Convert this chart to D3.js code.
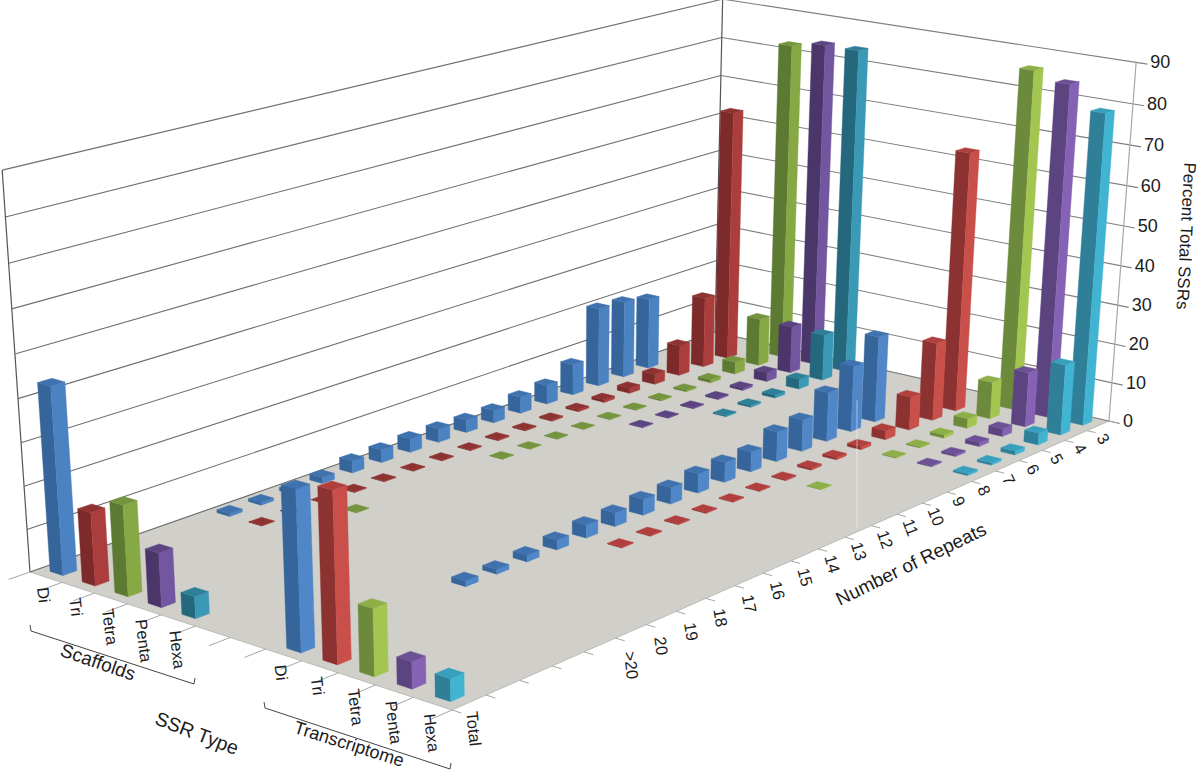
<!DOCTYPE html>
<html><head>
  <meta charset="utf-8">
  <script src="https://d3js.org/d3.v7.min.js"></script>
  <style>
    body { margin: 0; background: #fff; }
    text { font-family: 'Liberation Sans', Arial, sans-serif; fill: #1c1c1c; }
  </style>
</head>
<body>
  <script>
    //Axis categories (blanks are real empty slots on the floor)
    const ssrLabels = ["Di", "Tri", "Tetra", "Penta", "Hexa", "", "", "Di", "Tri", "Tetra", "Penta", "Hexa"]
    const repeatLabels = ["3", "4", "5", "6", "7", "8", "9", "10", "11", "12", "13", "14", "15", "16", "17", "18", "19", "20", ">20", "", "", "", "", "Total"]
    const percentTicks = [0, 10, 20, 30, 40, 50, 60, 70, 80, 90]

    //Percent of SSRs by number of repeats, same order as repeatLabels. null = no bar
    const scaffoldsDi = [null, null, null, 18.5, 20, 20.5, 8, 4.9, 4.2, 3.2, 3.2, 3.5, 3.5, 3.2, 3, 1.5, 0.8, 0.7, 0.7, null, null, null, null, 43.5]
    const scaffoldsTri = [null, 65.5, 18.5, 8, 2.7, 1.3, 0.7, 0.5, 0.4, 0.3, 0.3, 0.2, 0.2, 0.15, 0.15, 0.15, 0.1, 0.1, 0.1, null, null, null, null, 17]
    const scaffoldsTetra = [82.5, 12.5, 3.2, 0.8, 0.4, 0.3, 0.2, 0.2, 0.1, 0.1, 0.1, 0.1, null, null, null, null, 0.1, null, null, null, null, null, null, 21]
    const scaffoldsPenta = [84, 12.3, 2.4, 0.6, 0.4, 0.3, 0.2, 0.2, null, null, null, null, null, null, null, null, null, null, null, null, null, null, null, 12.5]
    const scaffoldsHexa = [84, 12, 2.6, 0.8, 0.5, 0.3, null, null, null, null, null, null, null, null, null, null, null, null, null, null, null, null, null, 5]
    const transDi = [null, null, null, 22, 16.8, 12.5, 8, 7.5, 5, 5, 4.8, 4, 3.9, 3.3, 3.2, 2.3, 1.6, 1.1, 1.3, null, null, null, null, 36]
    const transTri = [null, 66, 20, 8.5, 2.3, 0.8, 0.6, 0.5, 0.3, 0.2, 0.2, 0.2, 0.2, 0.2, 0.2, null, null, null, null, null, null, null, null, 38]
    const transTetra = [86, 9.5, 2.5, 0.8, 0.3, 0.2, null, null, 0.1, null, null, null, null, null, null, null, null, null, null, null, null, null, null, 15]
    const transPenta = [84, 14, 2, 1, 0.5, 0.3, null, null, null, null, null, null, null, null, null, null, null, null, null, null, null, null, null, 6]
    const transHexa = [78.5, 18, 3, 1, 0.6, 0.5, null, null, null, null, null, null, null, null, null, null, null, null, null, null, null, null, null, 5]

    //slot on the SSR axis, values, colors [left face, right face, top]
    const series = [
      {slot: 0, values: scaffoldsDi, colors: ["#35659a", "#4b82c2", "#3f72ae"]},
      {slot: 1, values: scaffoldsTri, colors: ["#7c2a2a", "#ab3e3c", "#8f3332"]},
      {slot: 2, values: scaffoldsTetra, colors: ["#5d7a33", "#86a845", "#74953d"]},
      {slot: 3, values: scaffoldsPenta, colors: ["#4b3669", "#7256a0", "#5c4482"]},
      {slot: 4, values: scaffoldsHexa, colors: ["#25687d", "#3a9ab5", "#2e8098"]},
      {slot: 7, values: transDi, colors: ["#35659a", "#4f87c8", "#3f72ae"]},
      {slot: 8, values: transTri, colors: ["#8c3230", "#c94f4b", "#b03f3d"]},
      {slot: 9, values: transTetra, colors: ["#6c8a3c", "#a3c650", "#8daf48"]},
      {slot: 10, values: transPenta, colors: ["#5b4480", "#8662b5", "#6d5195"]},
      {slot: 11, values: transHexa, colors: ["#2f7f99", "#41b4d2", "#38a0bd"]}
    ]

    const width = 1200
    const height = 771

    const svg = d3.select("body").append("svg")
                  .attr("width", width)
                  .attr("height", height)

    //Small gaussian solver, used to fit the camera
    function solve(A, b) {
      const n = b.length
      const m = A.map((row, i) => [...row, b[i]])
      for (let i = 0; i < n; i++) {
        let p = i
        for (let r = i + 1; r < n; r++) if (Math.abs(m[r][i]) > Math.abs(m[p][i])) p = r
        ;[m[i], m[p]] = [m[p], m[i]]
        for (let r = 0; r < n; r++) {
          if (r === i) continue
          const f = m[r][i] / m[i][i]
          for (let c = i; c < n + 1; c++) m[r][c] -= f * m[i][c]
        }
      }
      return m.map((row, i) => row[n] / row[i])
    }

    //Camera: floor corners and wall tops as seen on the page. u = along SSR axis, v = along repeats axis
    const floorPins = [
      {u: 0, v: 0, x: 715, y: 332},
      {u: 1, v: 0, x: 1109, y: 421},
      {u: 1, v: 1, x: 452, y: 710},
      {u: 0, v: 1, x: 30, y: 572}
    ]
    const topPins = [
      {u: 0, v: 1, x: 2, y: 167},
      {u: 0, v: 0, x: 722, y: 2},
      {u: 1, v: 0, x: 1137, y: 62}
    ]

    const floorA = []
    const floorB = []
    floorPins.forEach(p => {
      floorA.push([p.u, p.v, 1, 0, 0, 0, -p.x * p.u, -p.x * p.v]); floorB.push(p.x)
      floorA.push([0, 0, 0, p.u, p.v, 1, -p.y * p.u, -p.y * p.v]); floorB.push(p.y)
    })
    const h = solve(floorA, floorB)

    // vertical column from the wall tops, least squares
    const rows = []
    const rhs = []
    topPins.forEach(p => {
      const q = h[6] * p.u + h[7] * p.v + 1
      rows.push([1, 0, -p.x]); rhs.push(p.x * q - (h[0] * p.u + h[1] * p.v + h[2]))
      rows.push([0, 1, -p.y]); rhs.push(p.y * q - (h[3] * p.u + h[4] * p.v + h[5]))
    })
    const normA = d3.range(3).map(i => d3.range(3).map(j => d3.sum(rows, r => r[i] * r[j])))
    const normB = d3.range(3).map(i => d3.sum(rows, (r, k) => r[i] * rhs[k]))
    const vert = solve(normA, normB)

    function project(u, v, w) {
      const q = h[6] * u + h[7] * v + 1 + vert[2] * w
      return [(h[0] * u + h[1] * v + h[2] + vert[0] * w) / q,
              (h[3] * u + h[4] * v + h[5] + vert[1] * w) / q]
    }

    //Scales
    const ssrScale = d3.scaleBand().domain(d3.range(ssrLabels.length)).range([0, 1]).paddingInner(0.6).paddingOuter(0.3)
    const repeatScale = d3.scaleBand().domain(d3.range(repeatLabels.length)).range([0, 1]).paddingInner(0.6).paddingOuter(0.3)
    const percentScale = d3.scaleLinear().domain([0, 90]).range([0, 1])

    const line = d3.line()
    const poly = pts => pts.map(p => p.join(",")).join(" ")

    //Floor
    svg.append("polygon")
       .attr("points", poly(floorPins.map(p => project(p.u, p.v, 0))))
       .style("fill", "#d0cfca")
       .style("stroke", "#bcbbb6")

    //Gridlines on both walls
    const grid = svg.append("g").attr("class", "gridlines")
    grid.selectAll("path.left").data(percentTicks).join("path")
        .attr("class", "left")
        .attr("d", d => line([project(0, 1, percentScale(d)), project(0, 0, percentScale(d))]))
        .style("stroke", d => "#6f6f6f").style("fill", "none").style("stroke-width", 1.1)
    grid.selectAll("path.right").data(percentTicks).join("path")
        .attr("class", "right")
        .attr("d", d => line([project(0, 0, percentScale(d)), project(1.025, 0, percentScale(d))]))
        .style("stroke", "#808080").style("fill", "none").style("stroke-width", 1.1)

    //Wall edges
    const edges = [[0, 1, "#555"], [0, 0, "#555"], [1, 0, "#a8a8a8"]]
    grid.selectAll("path.edge").data(edges).join("path")
        .attr("class", "edge")
        .attr("d", d => line([project(d[0], d[1], 0), project(d[0], d[1], 1)]))
        .style("stroke", d => d[2]).style("fill", "none").style("stroke-width", 1.2)

    //Ticks along the two front floor edges
    svg.selectAll("path.ssrTick").data(d3.range(ssrLabels.length + 1)).join("path")
       .attr("class", "ssrTick")
       .attr("d", d => line([project(d / ssrLabels.length, 1, 0), project(d / ssrLabels.length, 1.025, 0)]))
       .style("stroke", "#a6a6a6").style("fill", "none")
    svg.selectAll("path.repTick").data(d3.range(repeatLabels.length + 1)).join("path")
       .attr("class", "repTick")
       .attr("d", d => line([project(1, d / repeatLabels.length, 0), project(1.02, d / repeatLabels.length, 0)]))
       .style("stroke", "#a6a6a6").style("fill", "none")

    //Bars, back to front
    const bars = []
    series.forEach(s => s.values.forEach((value, rep) => {
      if (value !== null) bars.push({slot: s.slot, rep: rep, value: value, colors: s.colors})
    }))
    bars.sort((a, b) => a.rep - b.rep || a.slot - b.slot)

    const barGroups = svg.selectAll("g.bar").data(bars).join("g").attr("class", "bar")

    function corners(d, w) {
      const u0 = ssrScale(d.slot), u1 = u0 + ssrScale.bandwidth()
      const v0 = repeatScale(d.rep), v1 = v0 + repeatScale.bandwidth()
      return {a: project(u0, v0, w), b: project(u1, v0, w), c: project(u1, v1, w), e: project(u0, v1, w)}
    }
    const face = (sel, pts, i) => sel.append("polygon")
          .attr("points", d => poly(pts(d)))
          .style("fill", d => d.colors[i])
          .style("stroke", d => d.colors[i])
          .style("stroke-width", 0.4)

    face(barGroups, d => {
      const lo = corners(d, 0), hi = corners(d, percentScale(d.value))
      return [lo.e, lo.c, hi.c, hi.e]
    }, 0)
    face(barGroups, d => {
      const lo = corners(d, 0), hi = corners(d, percentScale(d.value))
      return [lo.c, lo.b, hi.b, hi.c]
    }, 1)
    face(barGroups, d => {
      const hi = corners(d, percentScale(d.value))
      return [hi.a, hi.b, hi.c, hi.e]
    }, 2)

    //Faint seam that runs down the floor in the original
    svg.append("line")
       .attr("x1", 857).attr("y1", 400).attr("x2", 857).attr("y2", 528)
       .style("stroke", "#fff").style("stroke-opacity", 0.5)

    //Percent labels
    svg.selectAll("text.pct").data(percentTicks).join("text")
       .attr("class", "pct")
       .attr("x", d => project(1, 0, percentScale(d))[0] + 14)
       .attr("y", d => project(1, 0, percentScale(d))[1] + 6)
       .style("font-size", "18px")
       .text(d => d)

    //SSR type labels
    svg.selectAll("text.ssr").data(ssrLabels).join("text")
       .attr("class", "ssr")
       .attr("transform", (d, i) => {
         const p = project((i + 0.5) / ssrLabels.length, 1, 0)
         return `translate(${p[0] - 3},${p[1] + 10}) rotate(83)`
       })
       .attr("dominant-baseline", "central")
       .style("font-size", "16.5px")
       .text(d => d)

    //Repeat labels
    const repeatRotate = d3.scaleLinear().domain([0, 18]).range([58, 84]).clamp(true)
    const repeatDx = d3.scaleLinear().domain([0, 6, 18, 23]).range([3, -2, -1, 3])
    const repeatDy = d3.scaleLinear().domain([0, 10, 18, 23]).range([9, 11, 20, 9])
    svg.selectAll("text.rep").data(repeatLabels).join("text")
       .attr("class", "rep")
       .attr("transform", (d, i) => {
         const p = project(1, (i + 0.5) / repeatLabels.length, 0)
         return `translate(${p[0] + repeatDx(i)},${p[1] + repeatDy(i)}) rotate(${repeatRotate(i)})`
       })
       .attr("dominant-baseline", "central")
       .style("font-size", "16.5px")
       .text(d => d)

    //Axis titles
    const titles = [
      {text: "SSR Type", x: 197, y: 733, rot: 21, size: 19.5},
      {text: "Number of Repeats", x: 911, y: 564, rot: -26, size: 19},
      {text: "Percent Total SSRs", x: 1186, y: 236, rot: 93, size: 17},
      {text: "Scaffolds", x: 98, y: 662, rot: 19, size: 19},
      {text: "Transcriptome", x: 349, y: 744, rot: 17.5, size: 18}
    ]
    svg.selectAll("text.title").data(titles).join("text")
       .attr("class", "title")
       .attr("transform", d => `translate(${d.x},${d.y}) rotate(${d.rot})`)
       .attr("text-anchor", "middle")
       .attr("dominant-baseline", "central")
       .style("font-size", d => d.size + "px")
       .text(d => d.text)

    //Brackets under the two groups
    const brackets = [
      [[30, 625], [31, 631], [194, 684], [195, 678]],
      [[264, 702], [265, 708], [450, 769], [451, 763]]
    ]
    svg.selectAll("path.bracket").data(brackets).join("path")
       .attr("class", "bracket")
       .attr("d", d => line(d))
       .style("fill", "none").style("stroke", "#444").style("stroke-width", 1)
  </script>
</body></html>
